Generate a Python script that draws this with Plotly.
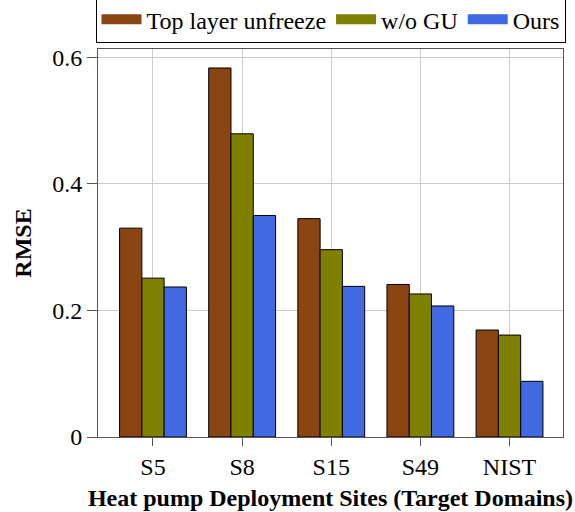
import plotly.graph_objects as go

sites = ["S5", "S8", "S15", "S49", "NIST"]
top_layer = [0.33, 0.583, 0.345, 0.241, 0.169]
wo_gu = [0.251, 0.479, 0.296, 0.226, 0.161]
ours = [0.237, 0.350, 0.238, 0.207, 0.088]
series_names = ["Top layer unfreeze", "w/o GU", "Ours"]
colors = ["#8B4513", "#808000", "#4169E1"]
ytick_vals = [0, 0.2, 0.4, 0.6]
ytick_text = ["0", "0.2", "0.4", "0.6"]

FONT = "Liberation Serif"
FS = 24

fig = go.Figure()
for name, vals, col in zip(series_names, [top_layer, wo_gu, ours], colors):
    fig.add_trace(go.Bar(
        x=sites, y=vals, name=name, showlegend=False,
        marker=dict(color=col, line=dict(color="black", width=1)),
    ))
# legend entries drawn as wide swatches
for name, col in zip(series_names, colors):
    fig.add_trace(go.Scatter(
        x=[None], y=[None], mode="lines", name=name,
        line=dict(color=col, width=10), showlegend=True,
    ))

fig.update_layout(
    width=575, height=512,
    margin=dict(l=98, r=12, t=49, b=75, autoexpand=False),
    paper_bgcolor="white", plot_bgcolor="white",
    barmode="group", bargap=0.25, bargroupgap=0,
    font=dict(family=FONT, size=FS, color="black"),
    legend=dict(
        orientation="h", x=0.5, xanchor="center", y=1.015, yanchor="bottom",
        bordercolor="black", borderwidth=1, bgcolor="white",
        font=dict(family=FONT, size=FS), traceorder="normal",
        itemwidth=40,
    ),
    xaxis=dict(
        range=[-0.617, 4.6],
        showgrid=True, gridcolor="#cccccc", gridwidth=1,
        showline=True, linecolor="#555555", linewidth=1, mirror=True,
        ticks="outside", ticklen=8, tickcolor="#555555",
        title=dict(text="<b>Heat pump Deployment Sites (Target Domains)</b>",
                   font=dict(family=FONT, size=FS), standoff=10),
        tickfont=dict(family=FONT, size=FS),
    ),
    yaxis=dict(
        range=[0, 0.613],
        tickvals=ytick_vals, ticktext=ytick_text,
        showgrid=True, gridcolor="#cccccc", gridwidth=1,
        showline=True, linecolor="#555555", linewidth=1, mirror=True,
        ticks="outside", ticklen=10, tickcolor="#555555",
        zeroline=False,
        title=dict(text="<b>RMSE</b>", font=dict(family=FONT, size=FS), standoff=13),
        tickfont=dict(family=FONT, size=FS),
    ),
)

fig.write_html(
    "out.html",
    config={"displayModeBar": False},
    post_script="document.body.style.margin='0';document.body.style.overflow='hidden';",
)
